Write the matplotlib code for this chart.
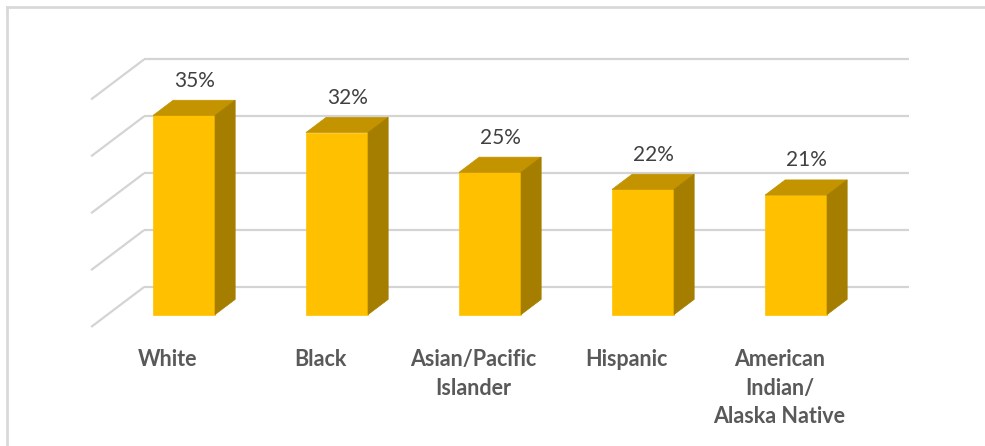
import numpy as np
import matplotlib.pyplot as plt
from matplotlib.patches import Polygon

# share of each group, in percent
groups = ['White', 'Black', 'Asian/Pacific\nIslander', 'Hispanic',
          'American\nIndian/\nAlaska Native']
values = [35, 32, 25, 22, 21]
gridvals = [0, 10, 20, 30, 40]

W, H = 985, 446
fig = plt.figure(figsize=(W / 100, H / 100), dpi=100)
ax = fig.add_axes([0, 0, 1, 1])

# pixel layout of the front plane: category step and percent scale
x0, xstep = 167.6, 153.0
y0, ystep = 446 - 327.0, 5.69
ax.set_xlim(-x0 / xstep, (W - x0) / xstep)
ax.set_ylim(-y0 / ystep, (H - y0) / ystep)
ax.axis('off')

# oblique depth offset (front plane -> back wall), in data units
ddx, ddy = 53 / xstep, 40 / ystep
d0, d1 = 0.31, 0.69   # bar front / back depth
bw = 62 / xstep
grid_col = '#d4d4d4'

# back wall gridlines and the diagonals on the left side wall
for g in gridvals:
    ax.plot([-0.5 + ddx, 4.5 + ddx], [g + ddy, g + ddy], color=grid_col,
            lw=1.6, solid_capstyle='butt', zorder=1)
    ax.plot([-0.5, -0.5 + ddx], [g, g + ddy], color=grid_col,
            lw=1.6, solid_capstyle='butt', zorder=1)

def face(pts, col):
    ax.add_patch(Polygon(pts, closed=True, facecolor=col, edgecolor=col,
                         lw=0.5, zorder=3))

for i, v in enumerate(values):
    l, r = i - bw / 2 + d0 * ddx, i + bw / 2 + d0 * ddx
    b, t = d0 * ddy, v + d0 * ddy
    ox, oy = (d1 - d0) * ddx, (d1 - d0) * ddy
    # front, top and right side of the box
    face([(l, b), (r, b), (r, t), (l, t)], '#ffc000')
    face([(l, t), (r, t), (r + ox, t + oy), (l + ox, t + oy)], '#c39300')
    face([(r, b), (r + ox, b + oy), (r + ox, t + oy), (r, t)], '#a57e00')
    ax.annotate(f'{v}%', (i + 0.5 * ddx, v + d1 * ddy), xytext=(0, 14),
                textcoords='offset points', ha='center', va='center',
                fontsize=15, family='Lato', color='#404040', zorder=4)
    ax.text(i, -3.9, groups[i], ha='center', va='top', fontsize=15.5,
            family='Lato', fontweight='bold', color='#595959',
            linespacing=1.45, zorder=4)

# chart border (top and left edges show)
fig.add_artist(plt.Line2D([6.5 / W, 1], [1 - 6.5 / H, 1 - 6.5 / H],
                          color='#d9d9d9', lw=2))
fig.add_artist(plt.Line2D([6.5 / W, 6.5 / W], [0, 1 - 6.5 / H],
                          color='#d9d9d9', lw=2))

fig.savefig('out.png', dpi=100)
